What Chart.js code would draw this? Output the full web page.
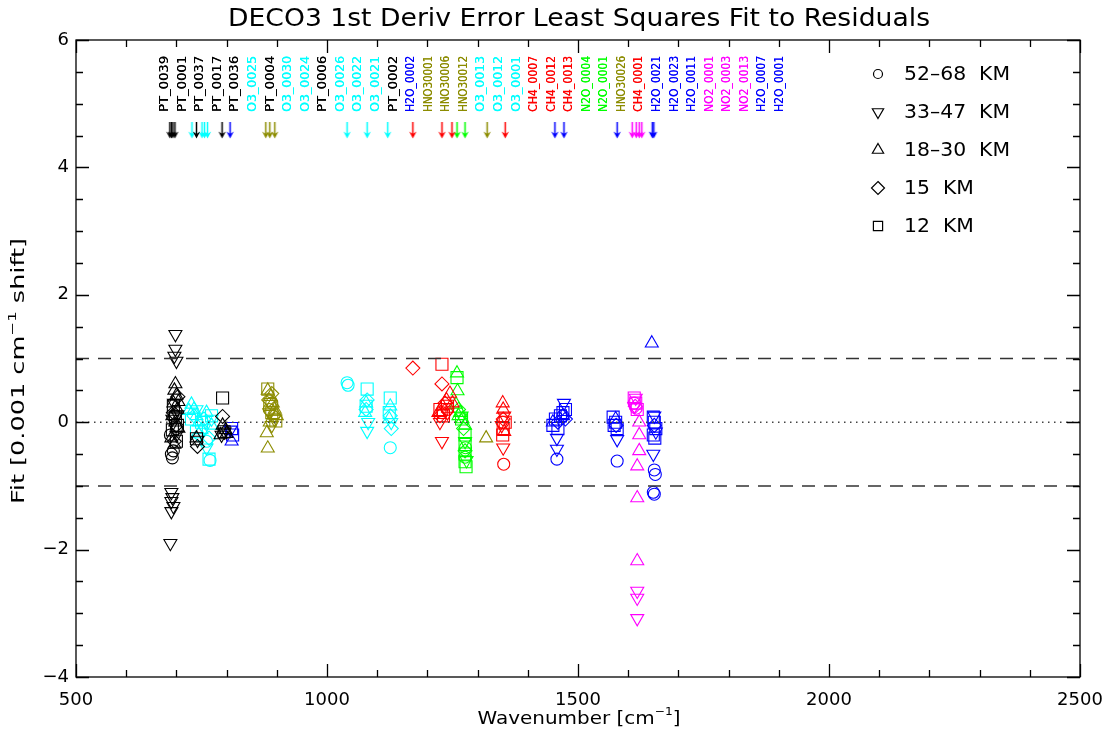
<!DOCTYPE html>
<html><head><meta charset="utf-8">
<script src="https://cdn.jsdelivr.net/npm/chart.js@4.4.1/dist/chart.umd.min.js"></script>
<style>html,body{margin:0;padding:0;background:#fff}#wrap{width:1120px;height:740px}</style>
</head><body><div id="wrap"><canvas id="c" width="1120" height="740"></canvas></div>
<script>
// ---------- data ----------
const xTickValues = [500, 1000, 1500, 2000, 2500];
const yTickValues = [-4, -2, 0, 2, 4, 6];
const legendLabels = ['52\u201368  KM', '33\u201347  KM', '18\u201330  KM', '15  KM', '12  KM'];

const labelNames = ['PT_0039','PT_0001','PT_0037','PT_0017','PT_0036','O3_0025','PT_0004','O3_0030','O3_0024','PT_0006','O3_0026','O3_0022','O3_0021','PT_0002','H2O_0002','HNO30001','HNO30006','HNO30012','O3_0013','O3_0012','O3_0001','CH4_0007','CH4_0012','CH4_0013','N2O_0004','N2O_0001','HNO30026','CH4_0001','H2O_0021','H2O_0023','H2O_0011','NO2_0001','NO2_0003','NO2_0013','H2O_0007','H2O_0001'];
const labelColors = ['k','k','k','k','k','c','k','c','c','k','c','c','c','k','b','o','o','o','c','c','c','r','r','r','g','g','o','r','b','b','b','m','m','m','b','b'];

// arrow markers (wavenumber of each band)
const arrowBlack = [687, 690, 693, 697, 740, 791];
const arrowCyan = [731, 751, 756, 762, 1040, 1080, 1121];
const arrowBlue = [807, 1454, 1472, 1578, 1648, 1651];
const arrowOlive = [878, 886, 896, 1319];
const arrowRed = [1171, 1229, 1249, 1355];
const arrowGreen = [1259, 1275];
const arrowMagenta = [1608, 1616, 1622, 1627];

// black (PT)
const blackCircle = [[690,-0.5],[692,-0.56],[694,-0.45],[688,-0.2],[696,0.1],[700,-0.1]];
const blackTriDown = [[698,1.38],[698,1.15],[696,1.04],[700,0.96],[690,-1.1],[692,-1.18],[690,-1.24],[694,-1.32],[690,-1.4],[688,-1.9],[695,0.3],[700,-0.2],[692,0.05],[742,-0.28],[790,-0.2],[796,-0.15],[702,0.12]];
const blackTriUp = [[698,0.6],[696,0.5],[700,0.42],[694,0.3],[702,0.2],[692,0.1],[698,0.0],[704,-0.1],[690,-0.25],[696,-0.35],[792,-0.05],[798,-0.12],[788,-0.2],[800,-0.18],[740,-0.25],[704,0.32]];
const blackDiamond = [[694,0.15],[700,-0.05],[696,-0.3],[742,-0.38],[792,0.09],[703,0.4]];
const blackSquare = [[694,0.25],[698,0.08],[692,-0.12],[700,-0.3],[740,-0.26],[792,0.38],[795,-0.15],[702,-0.05]];

// cyan (O3)
const cyanCircle = [[767,-0.6],[1040,0.62],[1042,0.58],[1126,-0.4],[760,-0.3]];
const cyanTriDown = [[1080,-0.14],[1082,0.0],[1128,0.0],[740,0.2],[755,-0.1],[770,0.05],[760,-0.4]];
const cyanTriUp = [[730,0.28],[735,0.2],[740,0.1],[745,0.0],[750,-0.12],[760,0.15],[770,-0.05],[1078,0.3],[1076,0.15],[1126,0.25],[1124,0.05],[725,0.18]];
const cyanDiamond = [[735,0.1],[745,-0.2],[755,0.05],[765,-0.25],[1080,0.35],[1078,0.2],[1126,0.1],[1128,-0.1]];
const cyanSquare = [[765,-0.58],[750,0.0],[740,-0.15],[1080,0.52],[1078,0.25],[1126,0.38],[1124,0.15],[770,0.1],[730,0.05]];

// olive (HNO3)
const oliveCircle = [[890,0.3],[885,0.2]];
const oliveTriDown = [[885,0.15],[895,0.05],[890,-0.05]];
const oliveTriUp = [[882,0.5],[888,0.4],[892,0.3],[896,0.2],[900,0.1],[886,0.0],[880,-0.17],[882,-0.41],[1317,-0.25]];
const oliveDiamond = [[884,0.35],[894,0.1],[890,0.45]];
const oliveSquare = [[882,0.52],[886,0.28],[898,0.02],[890,0.15]];

// blue (H2O)
const blueCircle = [[1458,-0.58],[1470,0.1],[1578,-0.61],[1652,-0.75],[1654,-0.82],[1650,-1.1],[1652,-1.13]];
const blueTriDown = [[808,-0.12],[1472,0.3],[1458,-0.25],[1458,-0.42],[1578,-0.27],[1650,-0.5],[1652,0.1],[1655,-0.15]];
const blueTriUp = [[810,-0.3],[1450,0.0],[1470,0.1],[1575,0.05],[1647,1.24]];
const blueDiamond = [[1460,0.0],[1475,0.05],[1576,-0.05],[1652,-0.05]];
const blueSquare = [[810,-0.1],[812,-0.2],[1450,-0.05],[1455,0.05],[1470,0.15],[1475,0.2],[1460,-0.1],[1465,0.1],[1570,0.08],[1575,0.0],[1578,-0.1],[1572,-0.05],[1650,0.08],[1652,0.0],[1655,-0.1],[1650,-0.2],[1653,-0.25]];

// red (CH4 etc.)
const redCircle = [[1229,0.15],[1240,0.2],[1352,-0.66],[1350,0.0]];
const redTriDown = [[1229,-0.3],[1225,0.0],[1240,0.15],[1351,-0.4],[1353,0.1],[1348,-0.05]];
const redTriUp = [[1230,0.25],[1238,0.35],[1245,0.45],[1250,0.3],[1222,0.15],[1351,0.2],[1350,0.3],[1353,-0.15]];
const redDiamond = [[1171,0.85],[1229,0.6],[1235,0.3],[1225,0.1],[1351,0.05]];
const redSquare = [[1229,0.91],[1225,0.2],[1232,0.1],[1240,0.25],[1351,-0.1],[1355,0.0],[1350,-0.2]];

// green (N2O)
const greenCircle = [[1276,-0.4],[1275,-0.55]];
const greenTriDown = [[1268,0.1],[1275,-0.3],[1278,-0.6]];
const greenTriUp = [[1259,0.77],[1260,0.49],[1257,0.28],[1265,0.15],[1270,0.05],[1275,-0.05],[1262,0.1]];
const greenDiamond = [[1262,0.2],[1272,-0.1],[1275,-0.45]];
const greenSquare = [[1259,0.7],[1275,-0.2],[1275,-0.35],[1275,-0.5],[1275,-0.62],[1277,-0.7],[1268,0.05]];

// magenta (NO2)
const magentaCircle = [[1616,0.22],[1612,0.3]];
const magentaTriDown = [[1615,0.38],[1612,0.25],[1618,-2.65],[1618,-2.76],[1618,-3.08]];
const magentaTriUp = [[1622,0.0],[1622,-0.2],[1622,-0.45],[1618,-0.69],[1618,-1.19],[1618,-2.18]];
const magentaDiamond = [[1614,0.25]];
const magentaSquare = [[1612,0.38],[1615,0.3],[1618,0.2]];

const refLines = [1, -1];
const zeroLine = 0;
const arrowLevel = 4.58;

// ---------- styling ----------
const COL = {k:'#000000', c:'#00ffff', o:'#8c8c00', b:'#0000ff', r:'#ff0000', g:'#00ff00', m:'#ff00ff'};
const SHAPE = {
  circle: {pointStyle:'circle', pointRadius:6, pointRotation:0},
  triDown:{pointStyle:'triangle', pointRadius:7.5, pointRotation:180},
  triUp:  {pointStyle:'triangle', pointRadius:7.5, pointRotation:0},
  diamond:{pointStyle:'rectRot', pointRadius:7, pointRotation:0},
  square: {pointStyle:'rect', pointRadius:8.5, pointRotation:0}
};

function makeArrow(color){
  const cv = document.createElement('canvas');
  cv.width = 9; cv.height = 17;
  const g = cv.getContext('2d');
  g.strokeStyle = color; g.fillStyle = color; g.lineWidth = 1.5;
  g.beginPath(); g.moveTo(4.5,0); g.lineTo(4.5,13); g.stroke();
  g.beginPath(); g.moveTo(0.8,9.5); g.lineTo(4.5,16.5); g.lineTo(8.2,9.5); g.lineTo(4.5,12); g.closePath(); g.fill();
  return cv;
}

const seriesTable = [
  [blackCircle,'k','circle'],[blackTriDown,'k','triDown'],[blackTriUp,'k','triUp'],[blackDiamond,'k','diamond'],[blackSquare,'k','square'],
  [cyanCircle,'c','circle'],[cyanTriDown,'c','triDown'],[cyanTriUp,'c','triUp'],[cyanDiamond,'c','diamond'],[cyanSquare,'c','square'],
  [oliveCircle,'o','circle'],[oliveTriDown,'o','triDown'],[oliveTriUp,'o','triUp'],[oliveDiamond,'o','diamond'],[oliveSquare,'o','square'],
  [redCircle,'r','circle'],[redTriDown,'r','triDown'],[redTriUp,'r','triUp'],[redDiamond,'r','diamond'],[redSquare,'r','square'],
  [greenCircle,'g','circle'],[greenTriDown,'g','triDown'],[greenTriUp,'g','triUp'],[greenDiamond,'g','diamond'],[greenSquare,'g','square'],
  [blueCircle,'b','circle'],[blueTriDown,'b','triDown'],[blueTriUp,'b','triUp'],[blueDiamond,'b','diamond'],[blueSquare,'b','square'],
  [magentaCircle,'m','circle'],[magentaTriDown,'m','triDown'],[magentaTriUp,'m','triUp'],[magentaDiamond,'m','diamond'],[magentaSquare,'m','square']
];
const arrowTable = [[arrowBlack,'k'],[arrowCyan,'c'],[arrowOlive,'o'],[arrowRed,'r'],[arrowGreen,'g'],[arrowBlue,'b'],[arrowMagenta,'m']];

const datasets = [];
refLines.forEach(v => datasets.push({type:'line', data:[{x:500,y:v},{x:2500,y:v}], borderColor:'#333333', borderWidth:1.5, borderDash:[13,9], pointRadius:0, fill:false}));
datasets.push({type:'line', data:[{x:500,y:zeroLine},{x:2500,y:zeroLine}], borderColor:'#444444', borderWidth:1.5, borderDash:[1.5,4.5], pointRadius:0, fill:false});
seriesTable.forEach(([pts,c,s]) => datasets.push(Object.assign({
  type:'scatter', data: pts.map(p => ({x:p[0], y:p[1]})),
  borderColor: COL[c], backgroundColor:'rgba(0,0,0,0)', borderWidth:1.1
}, SHAPE[s])));
arrowTable.forEach(([xs,c]) => datasets.push({
  type:'scatter', data: xs.map(x => ({x:x, y:arrowLevel})),
  pointStyle: makeArrow(COL[c]), pointRadius: 8
}));

const FONT = '"DejaVu Sans", "Liberation Sans", sans-serif';

// draw text (optionally with a superscript part) stretched to a target width, centred at (cx, cy)
function fitText(ctx, parts, cx, cy, size, targetW, rot){
  const supSize = Math.round(size*0.62);
  let total = 0;
  const widths = parts.map(([t,isSup]) => { ctx.font = (isSup?supSize:size)+'px '+FONT; const w = ctx.measureText(t).width; total += w; return w; });
  const sx = targetW / total;
  ctx.save();
  ctx.translate(cx, cy);
  if (rot) ctx.rotate(rot);
  ctx.scale(sx, 1);
  ctx.textAlign = 'left'; ctx.textBaseline = 'middle';
  let x = -total/2;
  parts.forEach(([t,isSup],i) => {
    ctx.font = (isSup?supSize:size)+'px '+FONT;
    ctx.fillText(t, x, isSup ? -size*0.38 : 0);
    x += widths[i];
  });
  ctx.restore();
}

function drawMarker(ctx, shape, x, y, r){
  ctx.beginPath();
  if (shape==='circle'){ ctx.arc(x,y,r,0,Math.PI*2); }
  else if (shape==='square'){ const h=r*Math.SQRT1_2; ctx.rect(x-h,y-h,2*h,2*h); }
  else if (shape==='diamond'){ ctx.moveTo(x,y-r); ctx.lineTo(x+r,y); ctx.lineTo(x,y+r); ctx.lineTo(x-r,y); ctx.closePath(); }
  else { const d = shape==='triUp'?1:-1;
    ctx.moveTo(x, y-d*r); ctx.lineTo(x+r*0.866, y+d*r*0.5); ctx.lineTo(x-r*0.866, y+d*r*0.5); ctx.closePath(); }
  ctx.stroke();
}

const decor = {
  id:'decor',
  afterDatasetsDraw(chart){
    const ctx = chart.ctx, a = chart.chartArea, xs = chart.scales.x, ys = chart.scales.y;
    ctx.save();
    ctx.strokeStyle = '#000'; ctx.lineWidth = 1.3;
    ctx.strokeRect(a.left, a.top, a.right-a.left, a.bottom-a.top);
    ctx.beginPath();
    for (let v = 500; v <= 2500; v += 100){
      const p = Math.round(xs.getPixelForValue(v))+0.5;
      const L = (v % 500 === 0) ? 13 : 7;
      ctx.moveTo(p, a.bottom); ctx.lineTo(p, a.bottom-L);
      ctx.moveTo(p, a.top); ctx.lineTo(p, a.top+L);
    }
    for (let v = -4; v <= 6; v += 0.5){
      const p = Math.round(ys.getPixelForValue(v))+0.5;
      const L = (Math.abs(v % 2) < 1e-9) ? 13 : 7;
      ctx.moveTo(a.left, p); ctx.lineTo(a.left+L, p);
      ctx.moveTo(a.right, p); ctx.lineTo(a.right-L, p);
    }
    ctx.stroke();
    ctx.restore();
  },
  afterDraw(chart){
    const ctx = chart.ctx, a = chart.chartArea, xs = chart.scales.x;
    ctx.save();
    ctx.fillStyle = '#000';
    // title
    fitText(ctx, [['DECO3 1st Deriv Error Least Squares Fit to Residuals', false]], 579, 20, 24, 702, 0);
    // x title
    fitText(ctx, [['Wavenumber [cm', false], ['\u22121', true], [']', false]], 579, 719, 18, 203, 0);
    // y title
    fitText(ctx, [['Fit [0.001 cm', false], ['\u22121', true], [' shift]', false]], 20, 371, 17, 266, -Math.PI/2);
    // species labels
    ctx.font = '12.5px ' + FONT;
    ctx.textBaseline = 'middle'; ctx.textAlign = 'left';
    labelNames.forEach((n,i) => {
      const px = xs.getPixelForValue(677 + 35*i);
      ctx.save(); ctx.translate(px, 112); ctx.rotate(-Math.PI/2);
      const w = ctx.measureText(n).width; ctx.scale(Math.min(1.12, 56/w), 1);
      ctx.fillStyle = COL[labelColors[i]]; ctx.fillText(n, 0, 0); ctx.fillText(n, 0.3, 0); ctx.restore();
    });
    // legend
    const shapes = ['circle','triDown','triUp','diamond','square'];
    const lr = [4.5, 6.5, 6.5, 6.5, 6.5];
    ctx.strokeStyle = '#000'; ctx.lineWidth = 1.2; ctx.fillStyle = '#000';
    shapes.forEach((s,i) => {
      const yy = 74 + i*38;
      drawMarker(ctx, s, 878, yy, lr[i]);
      ctx.font = '20px ' + FONT;
      const w = ctx.measureText(legendLabels[i]).width;
      fitText(ctx, [[legendLabels[i], false]], 904 + w*1.02/2, yy+1, 20, w*1.02, 0);
    });
    ctx.restore();
  }
};

new Chart(document.getElementById('c'), {
  data: {datasets},
  options: {
    responsive:false, animation:false, devicePixelRatio:1,
    layout:{padding:{top:40, right:40, left:0, bottom:0}},
    plugins:{legend:{display:false}, tooltip:{enabled:false}},
    scales:{
      x:{type:'linear', min:500, max:2500, afterFit(s){s.height=63;},
         grid:{display:false, drawTicks:false}, border:{display:false},
         afterBuildTicks(s){ s.ticks = xTickValues.map(v=>({value:v})); },
         ticks:{font:{family:'DejaVu Sans', size:18}, color:'#000', padding:13, maxRotation:0,
                callback:v => String(v)}},
      y:{type:'linear', min:-4, max:6, afterFit(s){s.width=76;},
         grid:{display:false, drawTicks:false}, border:{display:false},
         afterBuildTicks(s){ s.ticks = yTickValues.map(v=>({value:v})); },
         ticks:{font:{family:'DejaVu Sans', size:18}, color:'#000', padding:7,
                callback:v => (v<0 ? '\u2212' + Math.abs(v) : String(v))}}
    }
  },
  plugins:[decor]
});
</script></body></html>
